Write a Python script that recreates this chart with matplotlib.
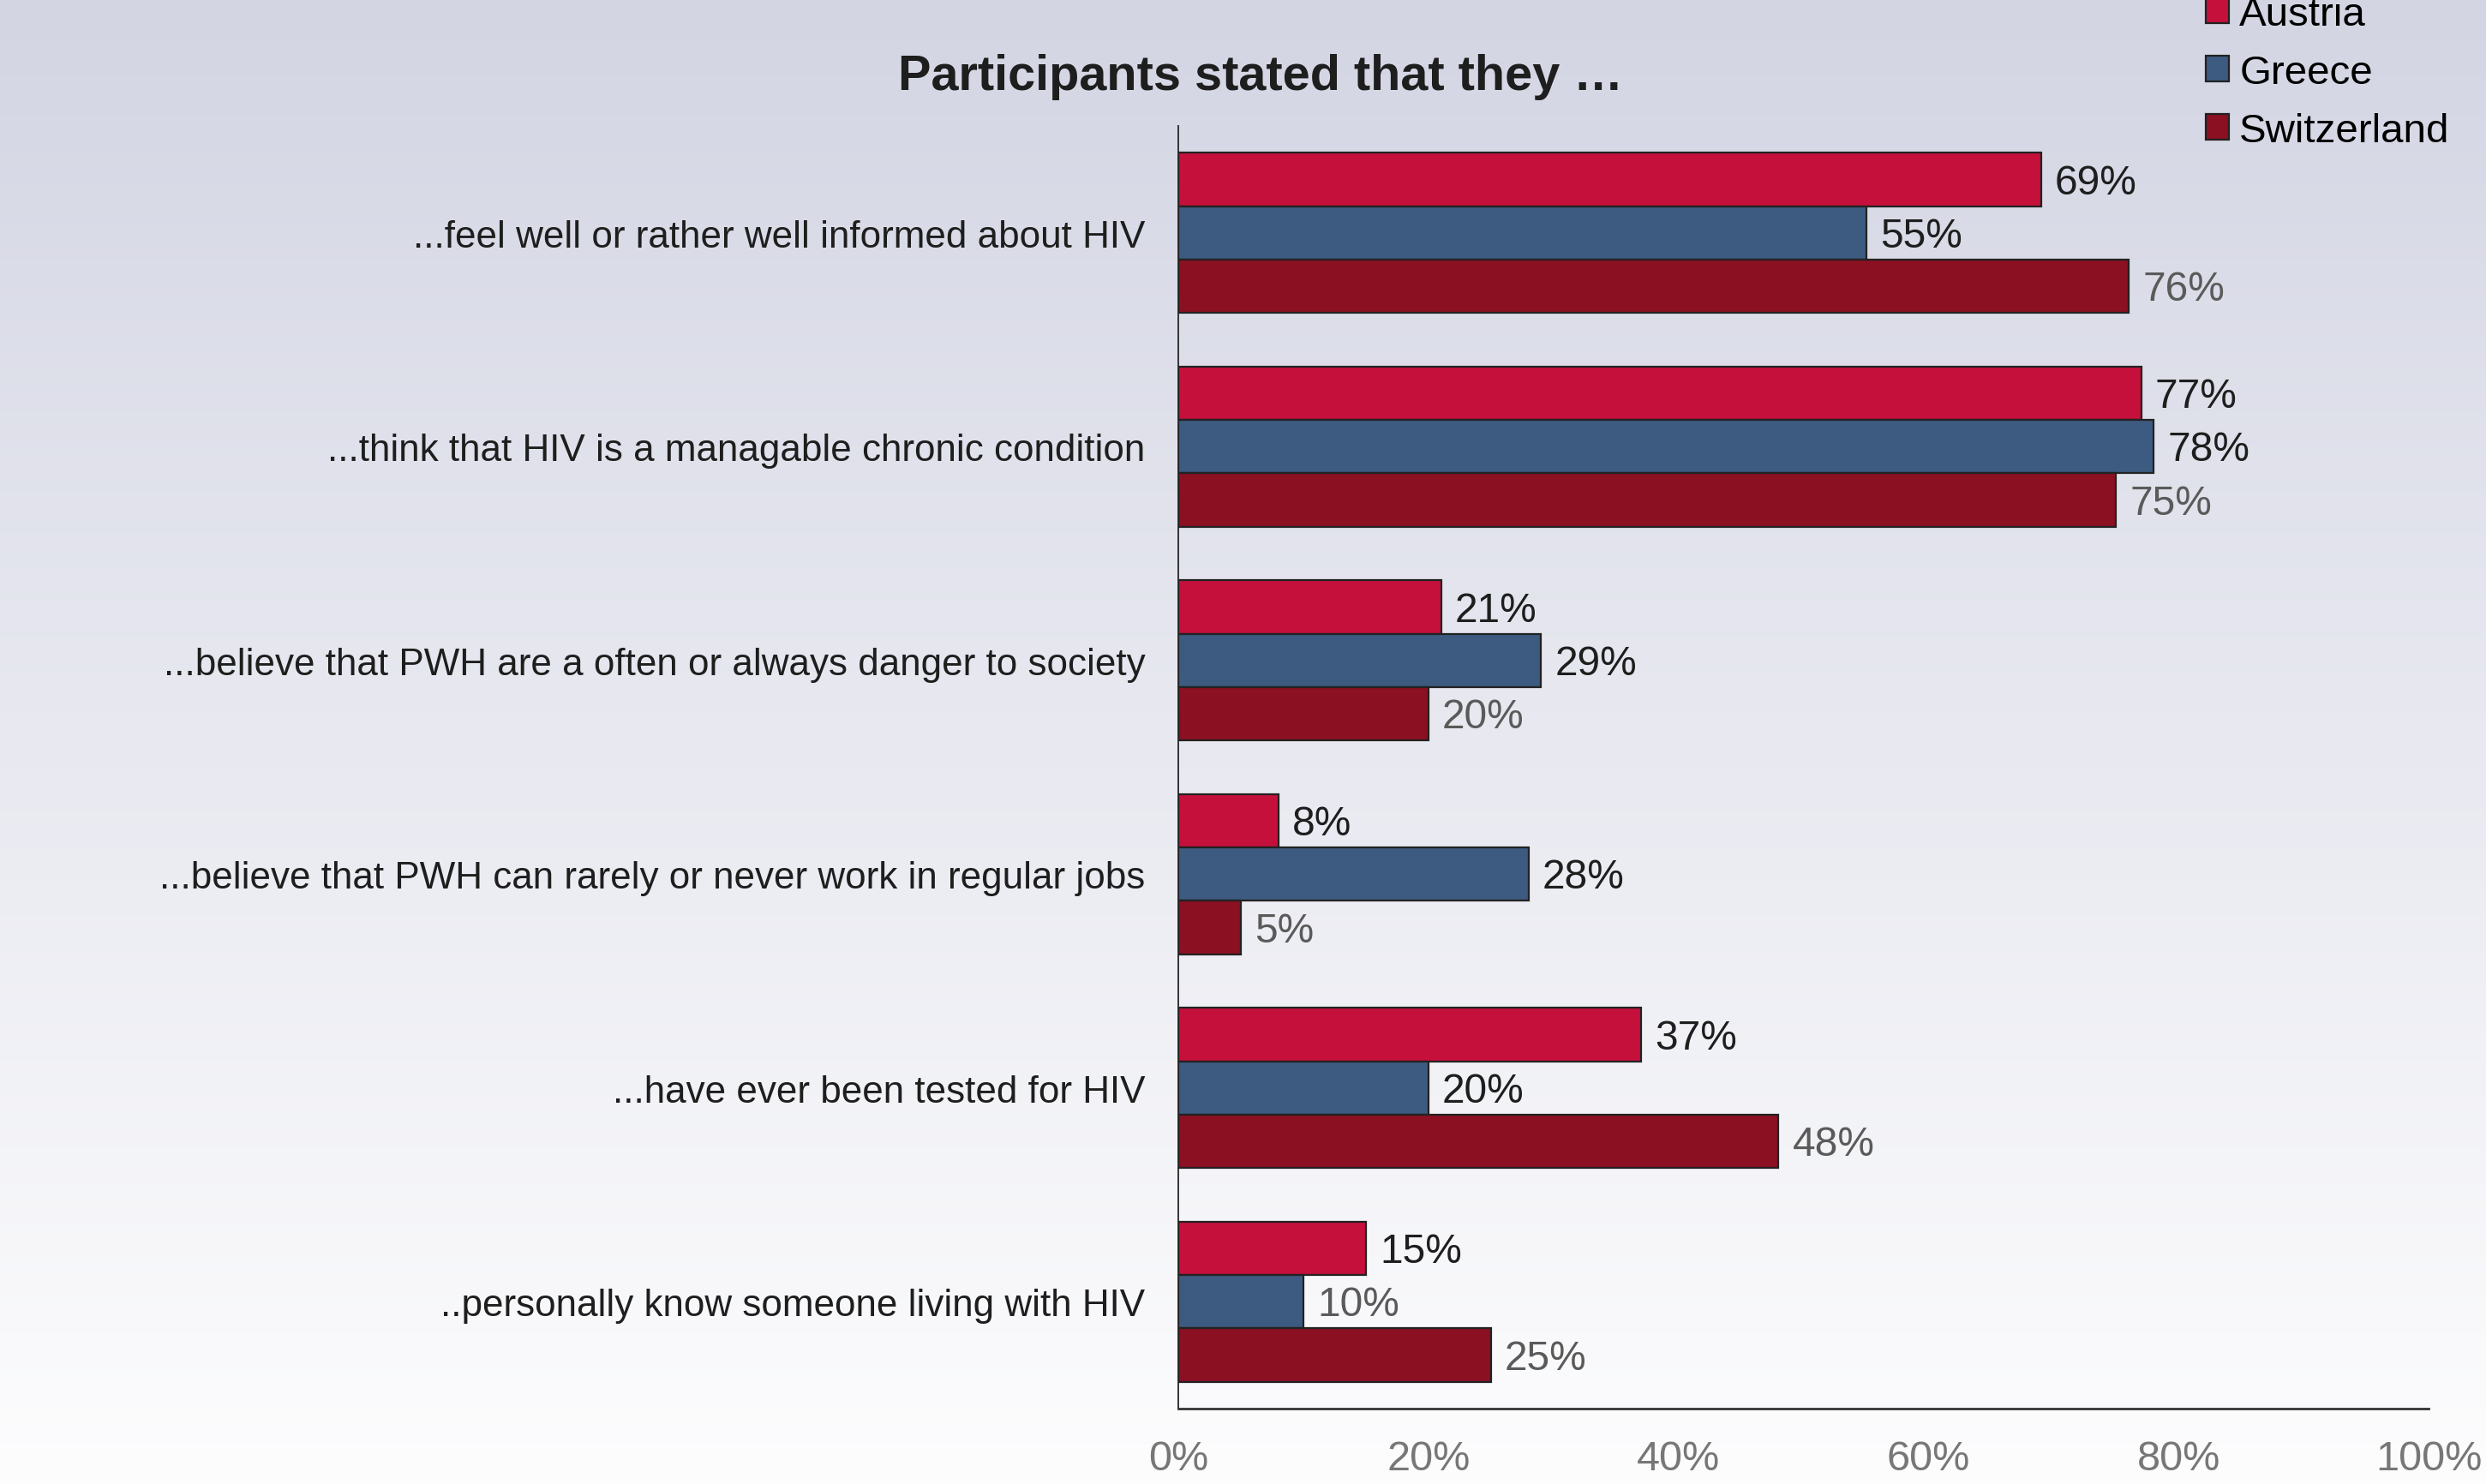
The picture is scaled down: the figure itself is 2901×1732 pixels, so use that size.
import numpy as np
import matplotlib
matplotlib.use("Agg")
import matplotlib.pyplot as plt
from matplotlib.patches import Patch

plt.rcParams["font.family"] = ["Liberation Sans", "DejaVu Sans"]

# data
statements = [
    "...feel well or rather well informed about HIV",
    "...think that HIV is a managable chronic condition",
    "...believe that PWH are a often or always danger to society",
    "...believe that PWH can rarely or never work in regular jobs",
    "...have ever been tested for HIV",
    "..personally know someone living with HIV",
]
countries = ["Austria", "Greece", "Switzerland"]
austria = [69, 77, 21, 8, 37, 15]
greece = [55, 78, 29, 28, 20, 10]
switzerland = [76, 75, 20, 5, 48, 25]
xticks = [0, 20, 40, 60, 80, 100]

colors = {"Austria": "#c5103c", "Greece": "#3d5a80", "Switzerland": "#8a1022"}
label_colors = {"Austria": "#1e1e1e", "Greece": "#1e1e1e", "Switzerland": "#5a5a5a"}
gray_override = {("Greece", 5)}  # this one label is gray in the original

fig = plt.figure(figsize=(29.01, 17.33), dpi=100)

# background gradient
bg = fig.add_axes([0, 0, 1, 1], zorder=-10)
top = np.array([211, 213, 227]) / 255
bottom = np.array([253, 253, 254]) / 255
t = np.linspace(0, 1, 256)[:, None]
grad = top * (1 - t) + bottom * t
bg.imshow(grad[:, None, :], aspect="auto", extent=[0, 1, 0, 1])
bg.axis("off")

ax = fig.add_axes([0.474, 0.0508, 0.503, 0.8638])
ax.patch.set_alpha(0)

series = {"Austria": austria, "Greece": greece, "Switzerland": switzerland}
ypos = np.arange(len(statements))
h = 0.25
for k, name in enumerate(countries):
    vals = series[name]
    yy = ypos + (k - 1) * h
    ax.barh(yy, vals, height=h, color=colors[name], edgecolor="#222222",
            linewidth=1.6, label=name, zorder=3)
    for i, (y, v) in enumerate(zip(yy, vals)):
        c = label_colors[name]
        if (name, i) in gray_override:
            c = "#5a5a5a"
        ax.text(v + 1.1, y + 0.015, f"{v}%", va="center", ha="left",
                fontsize=34.5, color=c, zorder=4)

ax.set_xlim(0, 100)
ax.set_ylim(5.5, -0.5)
ax.set_yticks(ypos)
ax.set_yticklabels(statements, fontsize=31.7, color="#1e1e1e")
ax.set_xticks(xticks)
ax.set_xticklabels([f"{x}%" for x in xticks], fontsize=35, color="#777777")
ax.tick_params(axis="y", length=0, pad=28)
ax.tick_params(axis="x", length=0, pad=26)
for s in ["top", "right"]:
    ax.spines[s].set_visible(False)
ax.spines["left"].set_color("#333333")
ax.spines["bottom"].set_color("#333333")
ax.spines["left"].set_linewidth(1.4)
ax.spines["bottom"].set_linewidth(2.0)

fig.text(0.507, 0.948, "Participants stated that they \u2026", ha="center",
         va="center", fontsize=41.5, fontweight="bold", color="#1e1e1e")

handles = [Patch(facecolor=colors[c], edgecolor="#222222", linewidth=1.6) for c in countries]
fig.legend(handles, countries, loc="upper left", bbox_to_anchor=(0.879, 1.016),
           frameon=False, fontsize=34.2, handlelength=0.58, handleheight=0.58,
           handletextpad=0.25, labelspacing=0.5, borderpad=0)

fig.savefig("out.png", dpi=100)
